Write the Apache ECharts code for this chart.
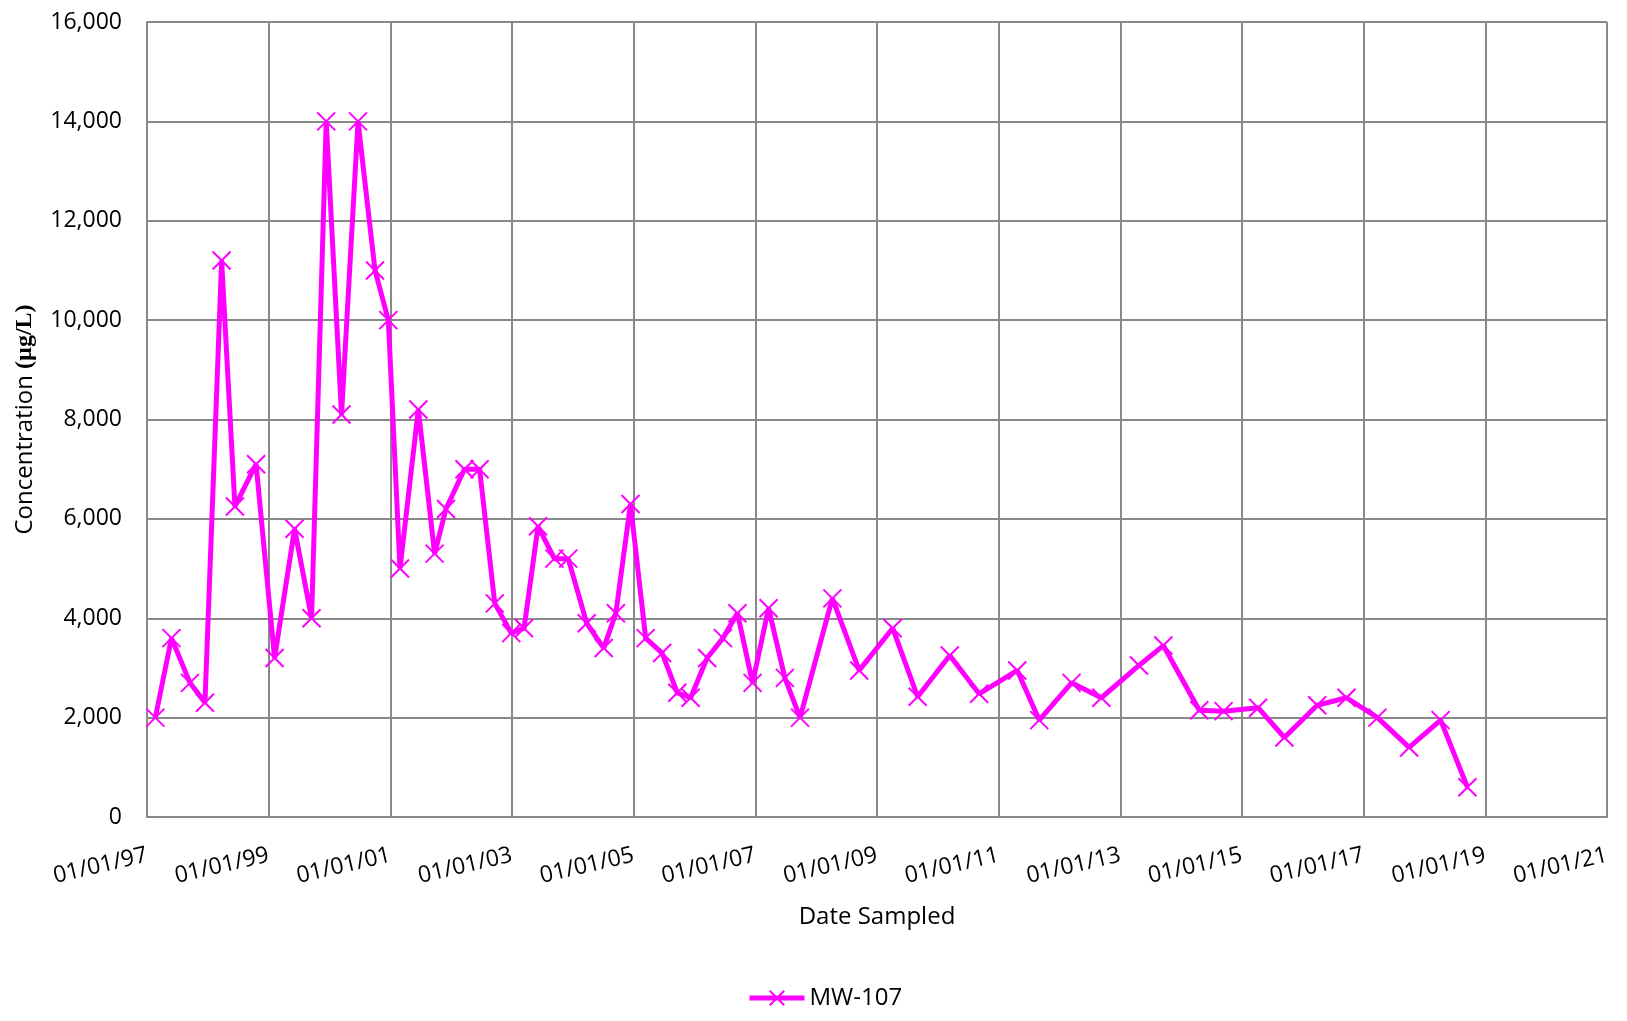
<!DOCTYPE html>
<html>
<head>
<meta charset="utf-8">
<title>MW-107</title>
<script src="https://cdn.jsdelivr.net/npm/echarts@6/dist/echarts.min.js"></script>
<style>
  html, body { margin: 0; padding: 0; background: #fff; }
  #chart { width: 1627px; height: 1021px; }
</style>
</head>
<body>
<div id="chart"></div>
<script>
// sample dates (approximate)
const sampleDates = [
  '1997-02-20', '1997-05-28', '1997-09-16', '1997-12-15',
  '1998-03-25', '1998-06-13', '1998-10-18',
  '1999-02-06', '1999-06-06', '1999-09-16', '1999-12-13',
  '2000-03-14', '2000-06-21', '2000-10-01', '2000-12-20',
  '2001-02-28', '2001-06-18', '2001-09-24', '2001-12-01',
  '2002-03-22', '2002-06-21', '2002-09-20', '2002-12-28',
  '2003-03-15', '2003-06-07', '2003-09-13', '2003-12-05',
  '2004-03-25', '2004-07-05', '2004-09-16', '2004-12-13',
  '2005-03-14', '2005-06-21', '2005-09-20', '2005-12-09',
  '2006-03-18', '2006-06-21', '2006-09-16', '2006-12-16',
  '2007-03-22', '2007-06-28', '2007-09-27',
  '2008-04-08', '2008-09-16',
  '2009-04-05', '2009-09-02',
  '2010-03-14', '2010-09-06',
  '2011-04-23', '2011-09-02',
  '2012-03-14', '2012-09-09',
  '2013-04-23', '2013-09-16',
  '2014-04-20', '2014-09-13',
  '2015-04-08', '2015-09-13',
  '2016-03-28', '2016-09-20',
  '2017-03-25', '2017-10-01',
  '2018-04-08', '2018-09-16'
]

// concentration, ug/L
const mw107 = [
  2000, 3600, 2700, 2300,
  11200, 6250, 7100,
  3200, 5800, 4000, 14000,
  8100, 14000, 11000, 10000,
  5000, 8200, 5300, 6200,
  7000, 7000, 4300, 3700,
  3800, 5850, 5200, 5200,
  3900, 3400, 4100, 6300,
  3600, 3300, 2500, 2400,
  3200, 3600, 4100, 2700,
  4200, 2800, 2000,
  4400, 2950,
  3800, 2420,
  3250, 2480,
  2950, 1950,
  2700, 2400,
  3050, 3450,
  2150, 2130,
  2200, 1600,
  2250, 2400,
  2000, 1400,
  1950, 600
]

const xStart = '1997-01-01'
const xEnd = '2021-01-01'
const yMax = 16000
const yStep = 2000

const gridColor = '#898989'
const magenta = '#FF00FF'
const labelFont = 'Open Sans'

function toUTC(s) {
  const p = s.split('-').map(Number)
  return Date.UTC(p[0], p[1] - 1, p[2])
}

function pad(n) {
  return (n < 10 ? '0' : '') + n
}

const chart = echarts.init(document.getElementById('chart'))

chart.setOption({
  useUTC: true,
  animation: false,
  backgroundColor: '#fff',
  grid: {
    left: 147,
    right: 20,
    top: 22,
    bottom: 204
  },
  legend: {
    left: 742,
    top: 981,
    itemWidth: 55,
    itemHeight: 18,
    lineStyle: { width: 5 },
    textStyle: { fontFamily: labelFont, fontSize: 24, color: '#000' },
    data: ['MW-107']
  },
  xAxis: {
    type: 'time',
    min: toUTC(xStart),
    max: toUTC(xEnd),
    splitNumber: 12,
    name: 'Date Sampled',
    nameLocation: 'middle',
    nameGap: 88,
    nameTextStyle: { fontFamily: labelFont, fontSize: 24, color: '#000' },
    axisLine: { lineStyle: { color: gridColor, width: 2 } },
    axisTick: { show: false },
    splitLine: { show: true, lineStyle: { color: gridColor, width: 2 } },
    axisLabel: {
      rotate: 13,
      margin: 38,
      showMinLabel: true,
      showMaxLabel: true,
      fontFamily: labelFont,
      fontSize: 23,
      color: '#000',
      formatter: function (v) {
        const d = new Date(v)
        return pad(d.getUTCMonth() + 1) + '/' + pad(d.getUTCDate()) + '/' + pad(d.getUTCFullYear() % 100)
      }
    }
  },
  yAxis: {
    type: 'value',
    min: 0,
    max: yMax,
    interval: yStep,
    name: '{a|Concentration }{b|(µg/L)}',
    nameLocation: 'middle',
    nameGap: 110,
    nameTextStyle: {
      rich: {
        a: { fontFamily: labelFont, fontSize: 24, color: '#000' },
        b: { fontFamily: 'Liberation Serif', fontWeight: 'bold', fontSize: 24, color: '#000' }
      }
    },
    axisLine: { show: true, lineStyle: { color: gridColor, width: 2 } },
    axisTick: { show: false },
    splitLine: { show: true, lineStyle: { color: gridColor, width: 2 } },
    axisLabel: {
      margin: 25,
      fontFamily: labelFont,
      fontSize: 23,
      color: '#000',
      formatter: function (v) {
        return v.toLocaleString('en-US')
      }
    }
  },
  series: [{
    name: 'MW-107',
    type: 'line',
    data: sampleDates.map((d, i) => [toUTC(d), mw107[i]]),
    symbol: 'path://M0,0L10,10M10,0L0,10',
    symbolSize: 18,
    showAllSymbol: true,
    lineStyle: { color: magenta, width: 5 },
    itemStyle: { color: magenta, borderColor: magenta, borderWidth: 2 },
    emphasis: { disabled: true }
  }]
})
</script>
</body>
</html>
